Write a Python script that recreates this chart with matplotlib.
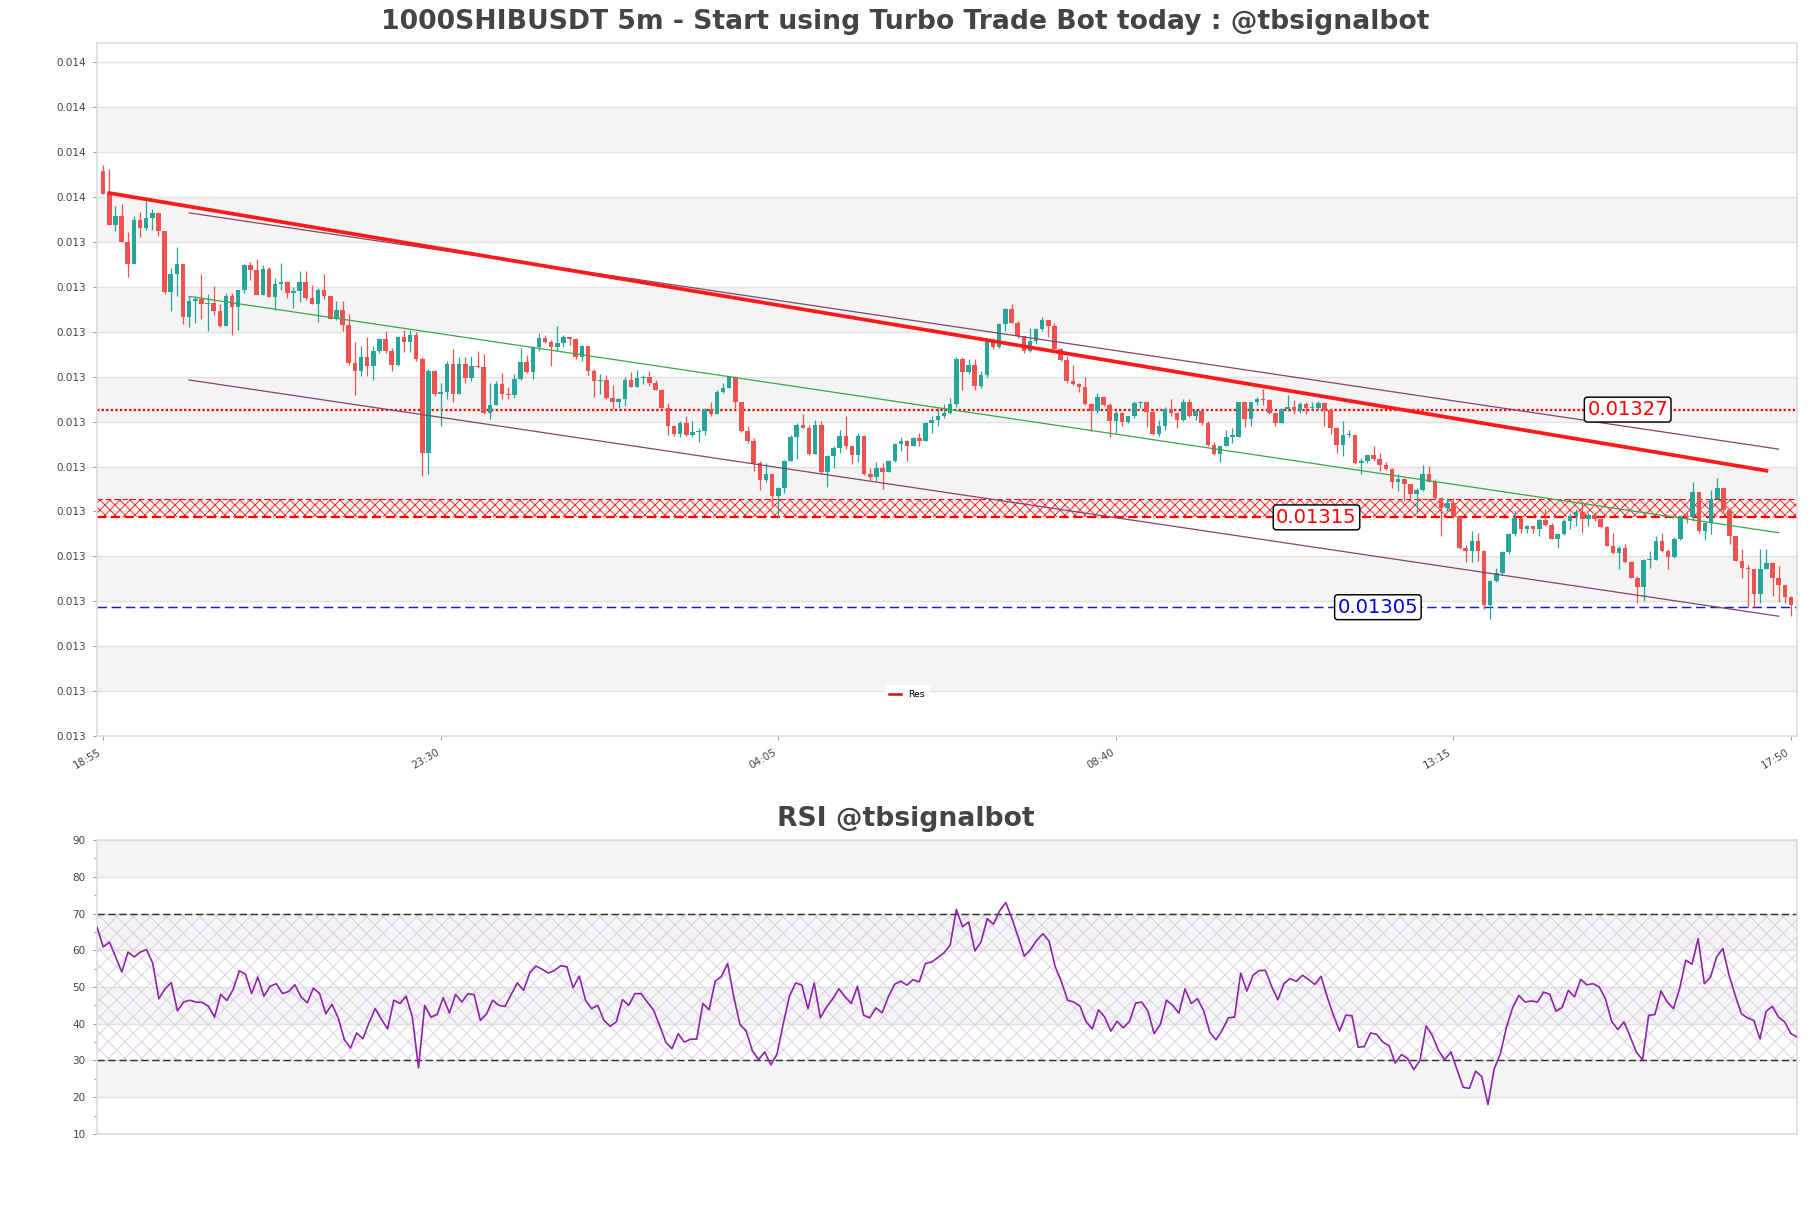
import matplotlib
matplotlib.use('Agg')
import matplotlib.pyplot as plt
from matplotlib.ticker import FormatStrFormatter, MultipleLocator
from matplotlib.transforms import ScaledTranslation
import numpy as np

plt.rcParams['hatch.linewidth'] = 0.45

title = '1000SHIBUSDT 5m - Start using Turbo Trade Bot today : @tbsignalbot'
rsi_title = 'RSI @tbsignalbot'

# 5m candles, prices in millionths (0.013510 -> 13510)
first_open_e6 = 13536
close_e6 = [
    13510, 13475, 13486, 13457, 13432, 13481, 13472, 13483, 13489, 13469,
    13401, 13421, 13432, 13373, 13391, 13393, 13387, 13389, 13380, 13363,
    13396, 13384, 13403, 13431, 13425, 13398, 13426, 13395, 13410, 13412,
    13400, 13402, 13412, 13394, 13387, 13403, 13396, 13371, 13381, 13364,
    13322, 13313, 13328, 13318, 13335, 13349, 13335, 13320, 13351, 13345,
    13353, 13326, 13222, 13313, 13287, 13290, 13321, 13287, 13321, 13305,
    13318, 13317, 13266, 13275, 13298, 13287, 13286, 13304, 13323, 13312,
    13340, 13350, 13345, 13340, 13344, 13351, 13349, 13328, 13341, 13313,
    13302, 13303, 13283, 13278, 13282, 13303, 13295, 13305, 13306, 13300,
    13292, 13272, 13252, 13243, 13255, 13242, 13245, 13246, 13271, 13265,
    13290, 13294, 13306, 13278, 13246, 13235, 13211, 13192, 13198, 13174,
    13183, 13213, 13240, 13253, 13250, 13221, 13253, 13200, 13218, 13227,
    13241, 13229, 13220, 13241, 13198, 13195, 13205, 13200, 13213, 13232,
    13235, 13230, 13238, 13235, 13255, 13258, 13263, 13266, 13276, 13326,
    13312, 13320, 13296, 13308, 13345, 13340, 13365, 13382, 13366, 13352,
    13335, 13346, 13360, 13370, 13363, 13338, 13325, 13302, 13299, 13295,
    13276, 13268, 13284, 13275, 13257, 13266, 13256, 13263, 13277, 13278,
    13267, 13243, 13252, 13271, 13266, 13258, 13278, 13263, 13268, 13255,
    13231, 13221, 13229, 13240, 13240, 13278, 13260, 13278, 13282, 13281,
    13266, 13255, 13271, 13273, 13270, 13276, 13272, 13272, 13277, 13270,
    13250, 13231, 13242, 13242, 13210, 13213, 13219, 13215, 13208, 13204,
    13189, 13193, 13187, 13176, 13181, 13198, 13189, 13172, 13161, 13166,
    13150, 13116, 13113, 13124, 13113, 13053, 13079, 13088, 13111, 13131,
    13149, 13137, 13140, 13137, 13147, 13142, 13126, 13131, 13146, 13152,
    13156, 13148, 13153, 13148, 13139, 13118, 13110, 13116, 13100, 13083,
    13072, 13103, 13103, 13124, 13113, 13106, 13126, 13152, 13150, 13178,
    13135, 13144, 13171, 13183, 13158, 13129, 13102, 13094, 13092, 13065,
    13093, 13099, 13083, 13075, 13061, 13052,
]
high_e6 = [
    13542, 13538, 13497, 13499, 13468, 13486, 13490, 13502, 13493, 13490,
    13468, 13428, 13451, 13431, 13396, 13396, 13421, 13399, 13408, 13388,
    13400, 13400, 13403, 13432, 13434, 13438, 13431, 13429, 13416, 13433,
    13413, 13407, 13424, 13424, 13409, 13405, 13421, 13396, 13391, 13391,
    13376, 13345, 13341, 13351, 13341, 13350, 13357, 13339, 13352, 13359,
    13359, 13356, 13328, 13315, 13314, 13300, 13324, 13337, 13328, 13328,
    13330, 13335, 13332, 13300, 13302, 13311, 13295, 13310, 13339, 13331,
    13341, 13355, 13353, 13347, 13363, 13353, 13351, 13350, 13342, 13341,
    13315, 13310, 13309, 13297, 13283, 13306, 13312, 13314, 13309, 13313,
    13303, 13293, 13277, 13253, 13257, 13263, 13257, 13249, 13272, 13279,
    13292, 13300, 13307, 13307, 13279, 13252, 13238, 13213, 13211, 13199,
    13184, 13214, 13242, 13255, 13265, 13253, 13258, 13257, 13219, 13229,
    13247, 13263, 13229, 13244, 13242, 13205, 13212, 13211, 13214, 13233,
    13239, 13236, 13239, 13244, 13256, 13263, 13272, 13276, 13283, 13329,
    13329, 13326, 13326, 13313, 13346, 13349, 13366, 13383, 13388, 13369,
    13352, 13361, 13361, 13373, 13370, 13366, 13339, 13330, 13320, 13300,
    13306, 13277, 13288, 13285, 13277, 13268, 13267, 13263, 13280, 13280,
    13278, 13271, 13258, 13273, 13282, 13267, 13282, 13282, 13271, 13266,
    13257, 13234, 13230, 13247, 13250, 13278, 13278, 13279, 13284, 13293,
    13282, 13266, 13272, 13286, 13281, 13278, 13278, 13279, 13280, 13278,
    13271, 13251, 13257, 13247, 13242, 13216, 13220, 13230, 13222, 13212,
    13205, 13198, 13194, 13186, 13183, 13208, 13207, 13193, 13173, 13172,
    13172, 13148, 13119, 13135, 13133, 13114, 13080, 13094, 13113, 13133,
    13157, 13150, 13142, 13142, 13148, 13159, 13144, 13133, 13148, 13155,
    13159, 13167, 13155, 13156, 13149, 13140, 13133, 13118, 13120, 13101,
    13085, 13104, 13113, 13129, 13133, 13115, 13128, 13152, 13157, 13189,
    13178, 13145, 13181, 13194, 13183, 13159, 13128, 13115, 13097, 13092,
    13115, 13115, 13100, 13096, 13075, 13063,
]
low_e6 = [
    13510, 13475, 13469, 13457, 13418, 13433, 13462, 13470, 13470, 13463,
    13399, 13380, 13397, 13365, 13362, 13366, 13371, 13357, 13375, 13362,
    13365, 13353, 13359, 13400, 13414, 13398, 13398, 13395, 13381, 13403,
    13394, 13383, 13390, 13392, 13387, 13368, 13393, 13371, 13370, 13357,
    13320, 13286, 13307, 13307, 13303, 13333, 13333, 13313, 13318, 13334,
    13334, 13324, 13196, 13198, 13285, 13252, 13282, 13278, 13287, 13300,
    13302, 13316, 13265, 13260, 13275, 13282, 13282, 13283, 13303, 13311,
    13304, 13335, 13344, 13318, 13335, 13340, 13342, 13326, 13324, 13308,
    13284, 13287, 13282, 13271, 13272, 13274, 13295, 13295, 13298, 13296,
    13292, 13272, 13242, 13241, 13240, 13241, 13240, 13234, 13242, 13263,
    13265, 13289, 13294, 13272, 13245, 13233, 13202, 13181, 13189, 13163,
    13150, 13177, 13213, 13215, 13249, 13220, 13221, 13198, 13184, 13205,
    13222, 13226, 13209, 13212, 13197, 13192, 13190, 13182, 13200, 13212,
    13224, 13213, 13229, 13229, 13235, 13244, 13252, 13261, 13265, 13273,
    13292, 13310, 13292, 13294, 13306, 13337, 13339, 13357, 13366, 13350,
    13333, 13334, 13343, 13358, 13351, 13337, 13324, 13300, 13297, 13290,
    13275, 13246, 13266, 13274, 13239, 13244, 13252, 13255, 13261, 13272,
    13251, 13242, 13241, 13247, 13263, 13250, 13257, 13262, 13258, 13253,
    13230, 13219, 13212, 13231, 13233, 13240, 13251, 13252, 13275, 13275,
    13265, 13252, 13255, 13268, 13265, 13266, 13265, 13270, 13271, 13252,
    13243, 13222, 13218, 13239, 13209, 13198, 13211, 13213, 13202, 13203,
    13183, 13179, 13168, 13170, 13155, 13179, 13189, 13171, 13129, 13157,
    13149, 13115, 13100, 13100, 13102, 13048, 13037, 13078, 13086, 13109,
    13129, 13133, 13133, 13133, 13129, 13140, 13126, 13116, 13130, 13137,
    13140, 13133, 13140, 13146, 13138, 13118, 13109, 13092, 13099, 13082,
    13055, 13057, 13094, 13103, 13112, 13093, 13105, 13125, 13144, 13146,
    13133, 13125, 13132, 13170, 13155, 13120, 13101, 13083, 13050, 13050,
    13055, 13092, 13063, 13056, 13055, 13040,
]

rsi = [
    66.2, 60.9, 62.2, 58.2, 54.1, 59.5, 58.2, 59.5, 60.2, 56.5,
    46.8, 49.5, 51.2, 43.5, 45.9, 46.4, 45.9, 45.8, 44.8, 41.8,
    48.0, 46.3, 49.3, 54.4, 53.5, 48.2, 52.7, 47.5, 50.2, 50.9,
    48.2, 48.8, 50.6, 47.3, 45.7, 49.7, 48.2, 42.7, 45.3, 41.6,
    35.7, 33.4, 37.5, 35.9, 40.3, 44.1, 41.2, 38.6, 46.4, 45.5,
    47.5, 41.8, 28.0, 45.0, 41.8, 42.5, 47.1, 42.9, 48.0, 45.9,
    48.2, 47.9, 40.9, 42.7, 46.4, 45.0, 44.7, 48.0, 51.1, 49.1,
    53.9, 55.7, 54.8, 53.8, 54.5, 55.8, 55.5, 49.8, 53.0, 46.5,
    44.1, 45.0, 40.9, 39.3, 40.5, 46.6, 45.0, 48.2, 48.2, 45.9,
    43.8, 39.5, 35.0, 33.2, 37.3, 35.0, 35.8, 35.8, 45.5, 43.8,
    51.6, 52.9, 56.4, 47.3, 39.8, 38.0, 32.7, 30.2, 32.3, 28.8,
    31.8, 40.0, 47.5, 51.1, 50.5, 44.1, 51.1, 41.6, 44.5, 46.8,
    49.5, 47.3, 45.5, 50.2, 42.3, 41.6, 44.3, 43.0, 47.3, 50.7,
    51.6, 50.5, 52.0, 51.4, 56.4, 56.8, 58.0, 59.3, 61.4, 71.1,
    66.4, 67.7, 59.8, 62.3, 68.6, 67.1, 70.7, 73.0, 68.6, 63.6,
    58.4, 60.2, 62.7, 64.5, 62.5, 55.5, 51.4, 46.4, 45.9, 44.8,
    40.5, 38.6, 43.8, 41.8, 38.0, 40.7, 38.9, 40.6, 45.6, 45.9,
    43.4, 37.3, 39.8, 46.4, 45.0, 42.9, 49.5, 45.5, 46.8, 43.6,
    37.7, 35.6, 38.2, 41.6, 41.8, 53.8, 48.9, 53.2, 54.5, 54.5,
    50.2, 46.5, 50.9, 52.3, 51.5, 53.2, 52.0, 50.7, 52.9, 47.3,
    42.3, 38.0, 42.3, 42.2, 33.6, 33.8, 37.5, 37.1, 35.0, 34.0,
    29.3, 31.6, 30.5, 27.5, 30.0, 39.4, 36.8, 32.7, 30.2, 32.3,
    27.5, 22.7, 22.4, 27.1, 25.6, 18.0, 27.7, 31.8, 39.1, 44.4,
    47.7, 45.9, 46.2, 45.9, 48.6, 48.0, 43.4, 44.4, 49.1, 47.3,
    52.1, 50.6, 50.9, 50.0, 46.8, 40.7, 38.4, 40.5, 36.5, 32.3,
    30.2, 42.3, 42.5, 48.9, 45.9, 44.1, 49.5, 57.3, 56.2, 63.2,
    50.9, 52.7, 58.2, 60.5, 53.2, 47.7, 42.7, 41.6, 40.9, 35.9,
    43.4, 44.7, 41.8, 40.5, 37.3, 36.4,
]

time_ticks = [0, 55, 110, 165, 220, 275]
time_labels = ['18:55', '23:30', '04:05', '08:40', '13:15', '17:50']

# trend lines (candle index, price)
res_x = [1, 271]
res_y = [0.013511, 0.013202]
chan_x = [14, 273]
chan_upper = [0.013489, 0.013226]
chan_mid = [0.013396, 0.013133]
chan_lower = [0.013303, 0.013040]

# horizontal levels
res_level = 0.01327
zone_low = 0.01315
zone_high = 0.01317
sup_level = 0.01305

close = np.array(close_e6) / 1e6
high = np.array(high_e6) / 1e6
low = np.array(low_e6) / 1e6
opn = np.concatenate([[first_open_e6 / 1e6], close[:-1]])
idx = np.arange(len(close))

RED = '#ef5350'
GREEN = '#26a69a'
BAND = '#f4f4f4'
GRID = '#e2e2e2'
SPINE = '#dddddd'
TXT = '#444444'

fig = plt.figure(figsize=(1811 / 150, 1208 / 150), dpi=150)
ax = fig.add_axes([0.0536, 0.3907, 0.9387, 0.5737])
rax = fig.add_axes([0.0536, 0.0613, 0.9387, 0.2433])

# ---------------- price panel ----------------
ytick_step = 0.00005
yticks = 0.0129066 + ytick_step * np.arange(16)
ax.set_ylim(0.0129066, 0.0136781)
ax.set_xlim(-1, 276)
for k in range(1, 15, 2):
    ax.axhspan(yticks[k], yticks[k + 1], color=BAND, zorder=0, lw=0)
ax.set_yticks(yticks)
ax.yaxis.set_major_formatter(FormatStrFormatter('%.3f'))
ax.grid(axis='y', color=GRID, lw=0.7, zorder=0.5)
ax.set_axisbelow(True)

colors = np.where(close >= opn, GREEN, RED)
body_lo = np.minimum(opn, close)
body_h = np.maximum(np.abs(close - opn), 0.0000012)
wick_lo = np.minimum(low, body_lo)
wick_hi = np.maximum(high, body_lo + body_h)
ax.vlines(idx, wick_lo, wick_hi, colors=colors, lw=0.6, zorder=3)
ax.bar(idx, body_h, bottom=body_lo, width=0.74, color=colors, lw=0, zorder=3)

# hatched zone + levels
ax.axhspan(zone_low, zone_high, facecolor='none', edgecolor='#ff2a2a', hatch='xxxxx', lw=0, zorder=1)
ax.axhline(zone_high, color='red', lw=0.5, dashes=(5, 3), zorder=2)
ax.axhline(zone_low, color='red', lw=1.1, dashes=(4, 2), zorder=2)
ax.axhline(res_level, color='red', lw=1.1, linestyle=(0, (1, 1)), zorder=2)
ax.axhline(sup_level, color='#1a1acc', lw=0.7, dashes=(6.5, 3.2), zorder=2)

ax.plot(chan_x, chan_upper, color='#84456a', lw=0.6, zorder=4)
ax.plot(chan_x, chan_lower, color='#84456a', lw=0.6, zorder=4)
ax.plot(chan_x, chan_mid, color='#3aa64a', lw=0.6, zorder=4)
res_line, = ax.plot(res_x, res_y, color='#ff1a1a', lw=1.8, zorder=5, label='Res')

box = dict(boxstyle='round,pad=0.15', fc='white', ec='black', lw=0.7)
ax.text(248.4, res_level, '0.01327', color='red', fontsize=9.4, ha='center', va='center', bbox=box, zorder=6)
ax.text(197.7, zone_low, '0.01315', color='red', fontsize=9.4, ha='center', va='center', bbox=box, zorder=6)
ax.text(207.7, sup_level, '0.01305', color='#0000dd', fontsize=9.4, ha='center', va='center', bbox=box, zorder=6)

leg = ax.legend(handles=[res_line], loc='center', bbox_to_anchor=(0.4765, 0.06), fontsize=4.5,
                frameon=True, facecolor='white', edgecolor='white', framealpha=1,
                handlelength=1.2)
leg.legend_handles[0].set_color('#d01010')
leg.legend_handles[0].set_linewidth(1.2)

ax.set_xticks(time_ticks)
ax.set_xticklabels(time_labels, rotation=30, ha='right')
shift = ScaledTranslation(-10 / 150, 5 / 150, fig.dpi_scale_trans)
for lbl in ax.get_xticklabels():
    lbl.set_transform(lbl.get_transform() + shift)
ax.tick_params(axis='both', labelsize=5, labelcolor=TXT, color='#999999', length=2, width=0.5)
for s in ax.spines.values():
    s.set_color(SPINE)
    s.set_linewidth(0.8)

fig.text(0.5, 0.982, title, ha='center', va='center', fontsize=12.8, fontweight='bold', color=TXT)

# ---------------- RSI panel ----------------
rax.set_xlim(0, len(rsi) - 1)
rax.set_ylim(10, 90)
for lo_b in (20, 40, 60, 80):
    rax.axhspan(lo_b, lo_b + 10, color=BAND, zorder=0, lw=0)
rax.axhspan(30, 70, facecolor='none', edgecolor='#dccde2', hatch='xxx', lw=0, zorder=0.6)
rax.yaxis.set_major_locator(MultipleLocator(10))
rax.yaxis.set_minor_locator(MultipleLocator(5))
rax.grid(axis='y', which='major', color=GRID, lw=0.7, zorder=0.5)
rax.set_axisbelow(True)
rax.axhline(70, color='#333333', lw=0.7, dashes=(5, 2.5), zorder=2)
rax.axhline(30, color='#333333', lw=0.7, dashes=(5, 2.5), zorder=2)
rax.plot(np.arange(len(rsi)), rsi, color='#8e24aa', lw=0.8, zorder=3)
rax.set_xticks([])
rax.tick_params(axis='y', which='both', labelsize=5, labelcolor=TXT, color='#999999', width=0.5)
rax.tick_params(axis='y', which='major', length=2)
rax.tick_params(axis='y', which='minor', length=1.5)
for s in rax.spines.values():
    s.set_color(SPINE)
    s.set_linewidth(0.8)

fig.text(0.5, 0.322, rsi_title, ha='center', va='center', fontsize=12.8, fontweight='bold', color=TXT)

fig.savefig('out.png', dpi=150, facecolor='white')
